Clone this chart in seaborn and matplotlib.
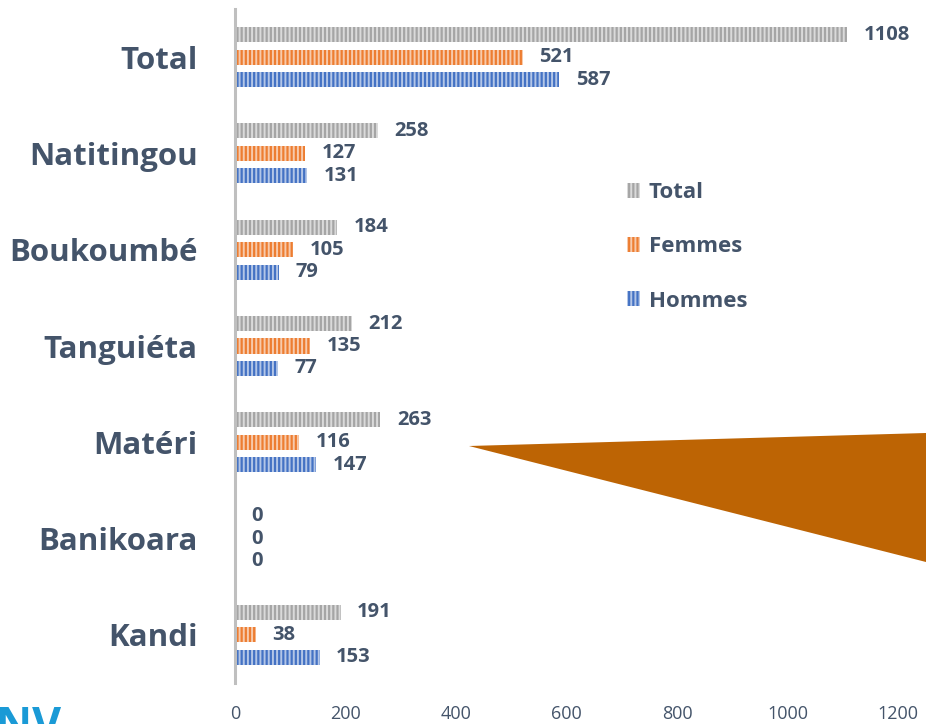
import pandas as pd
import matplotlib.pyplot as plt
import seaborn as sns
from matplotlib.patches import Patch, Polygon

# Data
communes = ['Total', 'Natitingou', 'Boukoumbé', 'Tanguiéta', 'Matéri', 'Banikoara', 'Kandi']
total = [1108, 258, 184, 212, 263, 0, 191]
femmes = [521, 127, 105, 135, 116, 0, 38]
hommes = [587, 131, 79, 77, 147, 0, 153]
series = ['Total', 'Femmes', 'Hommes']
xticks = [0, 200, 400, 600, 800, 1000, 1200]

colors = {'Total': '#A5A5A5', 'Femmes': '#ED7D31', 'Hommes': '#4472C4'}
txt = '#44546A'

df = pd.DataFrame({'Commune': communes, 'Total': total, 'Femmes': femmes, 'Hommes': hommes})
long = df.melt(id_vars='Commune', value_vars=series, var_name='Serie', value_name='Valeur')

sns.set_style('white')
plt.rcParams['font.family'] = ['Open Sans', 'DejaVu Sans']
plt.rcParams['hatch.linewidth'] = 1.4

fig = plt.figure(figsize=(9.26, 7.24), dpi=100)
ax = fig.add_axes([235 / 926, 1 - 683 / 724, 663 / 926, 674 / 724])

sns.barplot(data=long, y='Commune', x='Valeur', hue='Serie', order=communes,
            hue_order=series, palette=colors, orient='h', width=0.7, gap=0.33,
            ax=ax, legend=False, saturation=1)

for cont in ax.containers:
    for p in cont:
        p.set_hatch('||||')
        p.set_edgecolor((1, 1, 1, 0.6))
        p.set_linewidth(0)
    ax.bar_label(cont, padding=12, fontsize=14.5, fontweight='bold', color=txt)

ax.set_xlim(0, 1200)
ax.set_ylim(len(communes) - 0.5, -0.5)
ax.set_xticks(xticks)
ax.set_xticklabels([str(t) for t in xticks], fontsize=13, color=txt)
ax.tick_params(axis='x', length=0, pad=16)
ax.tick_params(axis='y', length=0, pad=27)
for lab in ax.get_yticklabels():
    lab.set_fontsize(22.5)
    lab.set_fontweight('bold')
    lab.set_color(txt)
ax.set_xlabel('')
ax.set_ylabel('')
for s in ['top', 'right', 'bottom']:
    ax.spines[s].set_visible(False)
ax.spines['left'].set_color('#BFBFBF')
ax.spines['left'].set_linewidth(2.2)

handles = [Patch(facecolor=colors[s], hatch='||||', edgecolor=(1, 1, 1, 0.6), linewidth=0, label=s)
           for s in series]
leg = fig.legend(handles=handles, loc='upper left', bbox_to_anchor=(0.655, 1 - 162 / 724),
                 frameon=False, handlelength=0.6, handleheight=0.65, handletextpad=0.4,
                 labelspacing=1.5, prop={'size': 16, 'weight': 'bold'})
for t in leg.get_texts():
    t.set_color(txt)

# decorative brown triangle over the chart
tri = Polygon([(469 / 926, 1 - 446 / 724), (1.0, 1 - 433 / 724), (1.0, 1 - 562 / 724)],
              closed=True, transform=fig.transFigure, facecolor='#BD6404', edgecolor='none', zorder=5)
fig.patches.append(tri)

# cropped logo text at the bottom-left (cut by the edge, as in the source)
fig.text(-0.004, 19 / 724, 'NV', fontsize=32, fontweight='bold', color='#1A9AD6', va='top', ha='left')

fig.savefig('out.png', dpi=100)
